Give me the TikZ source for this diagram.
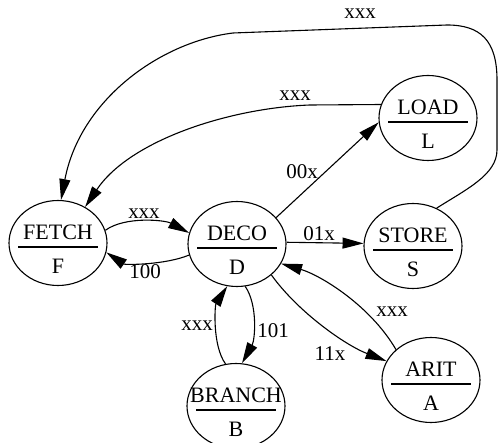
\documentclass[tikz,border=0pt]{standalone}
\usepackage{fontspec}
\setmainfont{Liberation Serif}
\usetikzlibrary{arrows.meta,shapes.geometric,calc}
\begin{document}
\begin{tikzpicture}[x=1pt,y=-1pt,
  state/.style={ellipse, draw, line width=1.1pt, minimum width=98pt, minimum height=85pt, inner sep=0pt},
  txt/.style={inner sep=0pt, anchor=base, font=\fontsize{22}{26}\selectfont},
  elab/.style={inner sep=0pt, font=\fontsize{21}{25}\selectfont},
  edge/.style={line width=1.1pt, -{Triangle[length=21pt,width=11pt]}},
  divider/.style={line width=1.1pt}]
\useasboundingbox (0,0) rectangle (499,443);
\newcommand\mystate[5]{%
  \node[state] (#1) at (#2,#3) {};
  \node[txt] (#1t) at ($(#1)+(0,-3)$) {#4};
  \node[txt] (#1b) at ($(#1)+(0,31)$) {#5};
  \draw[divider] ($(#1)+(-40,4)$) -- ($(#1)+(40,4)$);}
\mystate{F}{58}{243}{FETCH}{F}
\mystate{D}{237}{244}{DECO}{D}
\mystate{S}{413}{246}{STORE}{S}
\mystate{L}{428}{118}{LOAD}{L}
\mystate{A}{431}{380}{ARIT}{A}
\mystate{B}{236}{406}{BRANCH}{B}
% STORE -> FETCH (big loop)
\draw[edge] (S.58) .. controls (465,190) and (497,175) .. (497,150) -- (497,80)
  .. controls (497,40) and (480,25) .. (447,25) -- (233,33)
  .. controls (160,42) and (80,100) .. (F.86);
\node[elab] (l1) at (360,14) {xxx};
% LOAD -> FETCH
\draw[edge] (L.164) -- (310,105) .. controls (230,108) and (130,140) .. (F.53);
\node[elab] (l2) at (295,96) {xxx};
% DECO -> LOAD
\draw[edge] (D.34) -- (L.185);
\node[elab] (l3) at (302,172) {00x};
% FETCH -> DECO
\draw[edge] (F.15) .. controls (125,216) and (165,220) .. (D.167);
\node[elab] (l4) at (144,214) {xxx};
% DECO -> FETCH
\draw[edge] (D.193) .. controls (165,265) and (125,265) .. (F.-11);
\node[elab] (l5) at (145,272) {100};
% DECO -> STORE
\draw[edge] (D.2) -- (S.177);
\node[elab] (l6) at (319,234) {01x};
% DECO -> BRANCH
\draw[edge] (D.-79) .. controls (258,305) and (255,340) .. (B.82);
\node[elab] (l7) at (273,331) {101};
% BRANCH -> DECO
\draw[edge] (B.104) .. controls (212,345) and (215,305) .. (D.-103);
\node[elab] (l8) at (197,326) {xxx};
% DECO -> ARIT
\draw[edge] (D.-42) .. controls (298,312) and (345,345) .. (A.157);
\node[elab] (l9) at (330,354) {11x};
% ARIT -> DECO
\draw[edge] (A.139) .. controls (370,305) and (320,275) .. (D.-24);
\node[elab] (l10) at (392,312) {xxx};
\end{tikzpicture}
\end{document}
